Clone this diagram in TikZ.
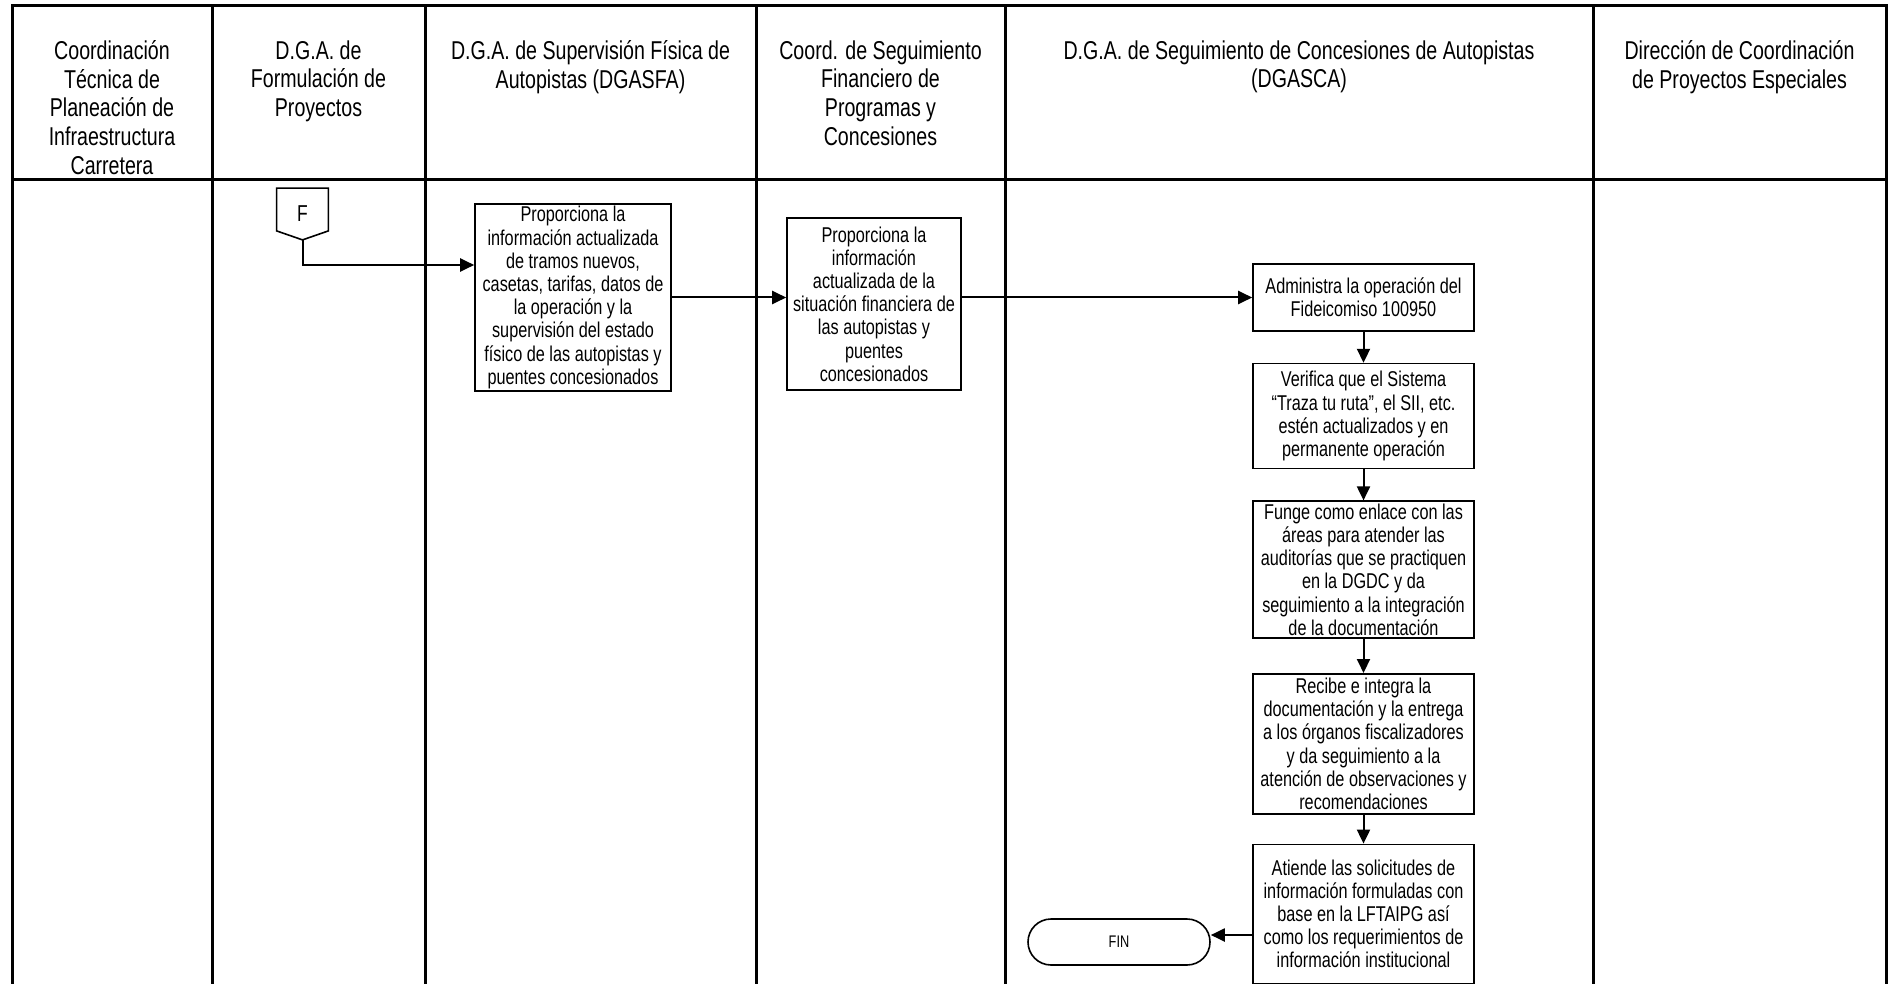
\documentclass[tikz,border=0pt]{standalone}
\usepackage{fontspec}
\setmainfont{Liberation Sans}[FakeStretch=0.76]
\usepackage{tikz}
\usetikzlibrary{positioning, arrows.meta}
\tikzstyle{lanehead} = [rectangle, 
anchor=north, 
inner sep=0pt, 
align=center, 
font=\fontsize{12.9pt}{14.4pt}\selectfont]
\tikzstyle{procbox} = [rectangle, 
minimum width=110.5pt, 
inner sep=0pt, 
align=center, 
line width=0.8pt, 
draw=black, 
font=\fontsize{10.7pt}{11.6pt}\selectfont]
\tikzstyle{offpage} = [rectangle, 
minimum width=25.5pt, 
minimum height=25.5pt, 
inner sep=0pt, 
font=\fontsize{11.5pt}{13pt}\selectfont]
\tikzstyle{terminal} = [rectangle, rounded corners=11.5pt, 
minimum width=91pt, 
minimum height=23pt, 
line width=0.8pt, 
draw=black, 
font=\fontsize{8.4pt}{10pt}\selectfont]
\tikzstyle{flow} = [line width=1pt, -{Triangle[length=7pt,width=6.5pt]}]
\tikzstyle{lane} = [line width=1.5pt]

\begin{document}
\begin{tikzpicture}[x=0.5pt, y=-0.5pt, node distance=15.5pt]
		\useasboundingbox (0,0) rectangle (1890,984);
		\draw [lane] (12,984) -- (12,6) -- (1886,6) -- (1886,984);
		\draw [lane] (12,180) -- (1886,180);
		\draw [lane] (212,6) -- (212,984);
		\draw [lane] (425,6) -- (425,984);
		\draw [lane] (756,6) -- (756,984);
		\draw [lane] (1005,6) -- (1005,984);
		\draw [lane] (1593,6) -- (1593,984);
		
		\node (ctp) [lanehead] at (112,40) {Coordinación\\Técnica de\\Planeación de\\Infraestructura\\Carretera};
		\node (dgafp) [lanehead] at (318.5,40) {D.G.A. de\\Formulación de\\Proyectos};
		\node (dgasfa) [lanehead] at (590.5,40) {D.G.A. de Supervisión Física de\\Autopistas (DGASFA)};
		\node (csf) [lanehead] at (880.5,40) {Coord. de Seguimiento\\Financiero de\\Programas y\\Concesiones};
		\node (dgasca) [lanehead] at (1299,40) {D.G.A. de Seguimiento de Concesiones de Autopistas\\(DGASCA)};
		\node (dcpe) [lanehead] at (1739.5,40) {Dirección de Coordinación\\de Proyectos Especiales};
		
		\node (f) [offpage] at (302.5,214) {F};
		\draw [line width=0.8pt] (f.north west) -- (f.north east) -- ([yshift=4.5pt]f.south east) -- (f.south) -- ([yshift=4.5pt]f.south west) -- cycle;
		\node (tramos) [procbox, minimum width=98pt, minimum height=93.5pt] at (573,297.5) {Proporciona la\\información actualizada\\de tramos nuevos,\\casetas, tarifas, datos de\\la operación y la\\supervisión del estado\\físico de las autopistas y\\puentes concesionados};
		\node (financ) [procbox, minimum width=87pt, minimum height=86pt] at (874,304) {Proporciona la\\información\\actualizada de la\\situación financiera de\\las autopistas y\\puentes\\concesionados};
		\node (fideic) [procbox, minimum height=33.5pt] at (1363.5,297.5) {Administra la operación del\\Fideicomiso 100950};
		\node (verif) [procbox, minimum height=52.5pt, below=of fideic] {Verifica que el Sistema\\“Traza tu ruta”, el SII, etc.\\estén actualizados y en\\permanente operación};
		\node (enlace) [procbox, minimum height=68.5pt, below=of verif] {Funge como enlace con las\\áreas para atender las\\auditorías que se practiquen\\en la DGDC y da\\seguimiento a la integración\\de la documentación};
		\node (integra) [procbox, minimum height=70pt, below=17pt of enlace] {Recibe e integra la\\documentación y la entrega\\a los órganos fiscalizadores\\y da seguimiento a la\\atención de observaciones y\\recomendaciones};
		\node (atiende) [procbox, minimum height=69.5pt, below=14.5pt of integra] {Atiende las solicitudes de\\información formuladas con\\base en la LFTAIPG así\\como los requerimientos de\\información institucional};
		\node (fin) [terminal] at (1119,942) {FIN};
		\coordinate (finin) at ([yshift=3.5pt]fin.east);
		
		\draw [flow] (f.south) |- ([yshift=16.25pt]tramos.west);
		\draw [flow] (tramos.east) -- (tramos.east -| financ.west);
		\draw [flow] (financ.east |- fideic.west) -- (fideic.west);
		\draw [flow] (fideic.south) -- (verif.north);
		\draw [flow] (verif.south) -- (enlace.north);
		\draw [flow] (enlace.south) -- (integra.north);
		\draw [flow] (integra.south) -- (atiende.north);
		\draw [flow] (atiende.west |- finin) -- (finin);
	\end{tikzpicture}
\end{document}
